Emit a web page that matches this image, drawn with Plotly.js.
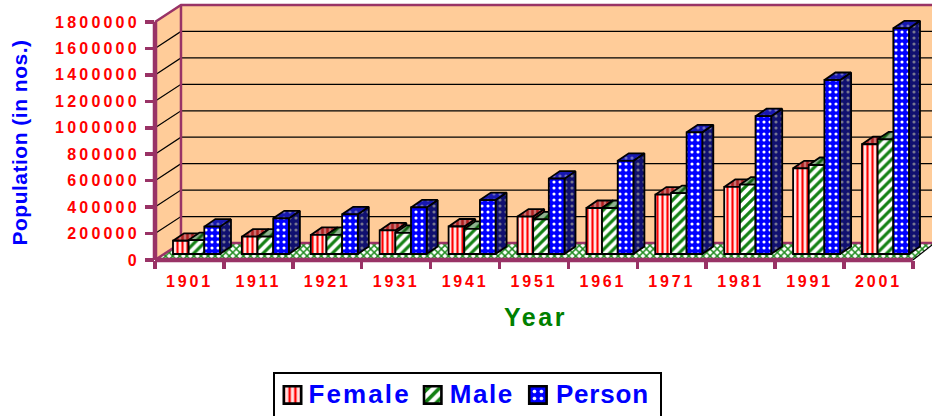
<!DOCTYPE html>
<html><head><meta charset="utf-8">
<script src="https://cdn.plot.ly/plotly-3.0.1.min.js"></script>
<style>
html,body{margin:0;padding:0;background:#fff;overflow:hidden}
.cartesianlayer .plot,.scatterlayer,.scatterlayer *,.overplot,.subplot,.subplot *{clip-path:none !important}
.xtick text{letter-spacing:2.8px}
.ytick text{letter-spacing:3.2px}
.legendtext{letter-spacing:2.1px;transform:translate(-6px,-4px)}
.legend .bg{width:387px}
.legendpoints{transform:translate(-11px,-2px) scale(1.45)}
.legend .traces:nth-child(2) .legendtext{letter-spacing:1.6px;transform:translate(-12px,-4px)}
.legend .traces:nth-child(2) .legendpoints{transform:translate(-18px,-2px) scale(1.45)}
.legend .traces:nth-child(3) .legendtext{letter-spacing:.8px;transform:translate(-17px,-4px)}
.legend .traces:nth-child(3) .legendpoints{transform:translate(-24px,-2px) scale(1.45)}
.xtitle{letter-spacing:2.5px}
.ytitle{letter-spacing:.5px}
.g-ytitle{transform:translate(-3px,10px)}
.g-xtitle{transform:translate(-8px,-1px)}
</style></head><body><div id="chart" style="width:932px;height:416px"></div>
<script>
const years  = ['1901','1911','1921','1931','1941','1951','1961','1971','1981','1991','2001'];
const female = [100000,131000,144000,178000,208000,283000,348000,449000,507000,648000,830000];
const male   = [105000,131000,144000,160000,190000,262000,348000,461000,524000,673000,867000];
const person = [207000,270000,300000,352000,408000,570000,705000,920000,1042000,1316000,1707000];
const yTicks = [0,200000,400000,600000,800000,1000000,1200000,1400000,1600000,1800000];

const purple = '#993366', peach = '#FFCC99';
const yTop = 1928571, xEnd = 10.777, xFront = -0.5, xFrontEnd = 10.5;
const wallDx = 0.377, wallDy = 128571;          // depth of the chart box, in axis units
const barDx = 0.16, barDy = 56700;              // depth of a bar, in axis units
const baseY = 45400, shiftX = 0.102;            // where the bars stand on the floor
const barW = 0.2273;
const indices = years.map((_, i) => i);

function poly(name, xs, ys, fill, pattern, line) {
  const t = {type:'scatter', mode:'lines', x:xs, y:ys, name, showlegend:false, hoverinfo:'skip',
    cliponaxis:false, fill:'toself', fillcolor:fill, line:line || {color:'#000', width:1.8}};
  if (pattern) t.fillpattern = pattern;
  return t;
}
function lineTrace(name, xs, ys, color, width) {
  return {type:'scatter', mode:'lines', x:xs, y:ys, name, showlegend:false, hoverinfo:'skip',
    cliponaxis:false, line:{color, width}};
}
function faces(values, s, sideBg, sideFg, topBg, topFg, shape, size, sol) {
  const sx=[], sy=[], tx=[], ty=[];
  values.forEach((v, i) => {
    const xl = i + shiftX - 1.5*barW + s*barW, xr = xl + barW, yv = v + baseY;
    sx.push(xr, xr+barDx, xr+barDx, xr, xr, null);
    sy.push(baseY, baseY+barDy, yv+barDy, yv, baseY, null);
    tx.push(xl, xl+barDx, xr+barDx, xr, xl, null);
    ty.push(yv, yv+barDy, yv+barDy, yv, yv, null);
  });
  return [
    poly('side', sx, sy, sideBg, {shape, size, solidity:sol, bgcolor:sideBg, fgcolor:sideFg, fillmode:'replace'}),
    poly('top', tx, ty, topBg, {shape, size, solidity:sol, bgcolor:topBg, fgcolor:topFg, fillmode:'replace'})
  ];
}

const gx=[], gy=[];
yTicks.slice(1,-1).forEach(v => {
  gx.push(xFront, xFront+wallDx, xEnd, null);
  gy.push(v, v+wallDy, v+wallDy, null);
});

const traces = [
  poly('back wall', [xFront+wallDx,xEnd,xEnd,xFront+wallDx,xFront+wallDx], [wallDy,wallDy,yTop,yTop,wallDy], peach, null, {color:peach,width:0}),
  poly('side wall', [xFront,xFront+wallDx,xFront+wallDx,xFront,xFront], [0,wallDy,1800000+wallDy,1800000,0], peach, null, {color:peach,width:0}),
  poly('floor', [xFront,xFront+wallDx,xEnd,xEnd,xFrontEnd,xFront], [0,wallDy,wallDy,wallDy*0.88,0,0], '#ffffff',
       {shape:'x', size:5, solidity:0.5, bgcolor:'#ffffff', fgcolor:'#1E8B1E', fillmode:'replace'}, {color:'rgba(0,0,0,0)',width:0}),
  lineTrace('grid', gx, gy, '#000', 1.2),
  lineTrace('box', [xFront,xFront+wallDx,xEnd,null,xFront+wallDx,xFront+wallDx,xEnd,null,xFront,xFront+wallDx],
            [1800000,1800000+wallDy,1800000+wallDy,null,1800000+wallDy,wallDy,wallDy,null,0,wallDy], purple, 2.5),
  lineTrace('floor edge', [xFrontEnd,xEnd], [0,wallDy*0.88], '#000', 1.2),
  ...faces(female,0,'#B05050','#D02020','#C87070','#B02020','|',5,0.5),
  ...faces(male,1,'#4F8F4F','#1E6B1E','#8FB08F','#106010','/',7,0.4),
  ...faces(person,2,'#101070','#77778F','#1818B0','#6F6FC0','.',6,0.22),
  lineTrace('y axis', [xFront,xFront], [0,1800000], purple, 4.5),
  lineTrace('x axis', [xFront,xFrontEnd], [0,0], purple, 4.5),
  {type:'bar', name:'Female', x:years, y:female, xaxis:'x2', yaxis:'y2', hoverinfo:'skip',
   marker:{color:'#FFD8D8', line:{color:'#000',width:1.8}, pattern:{shape:'|', size:5, solidity:0.42, bgcolor:'#FFE4E4', fgcolor:'#FF0000', fillmode:'replace'}}},
  {type:'bar', name:'Male', x:years, y:male, xaxis:'x2', yaxis:'y2', hoverinfo:'skip',
   marker:{color:'#FFFFFF', line:{color:'#000',width:1.8}, pattern:{shape:'/', size:7, solidity:0.45, bgcolor:'#FFFFFF', fgcolor:'#128012', fillmode:'replace'}}},
  {type:'bar', name:'Person', x:years, y:person, xaxis:'x2', yaxis:'y2', hoverinfo:'skip',
   marker:{color:'#0000FF', line:{color:'#000',width:1.8}, pattern:{shape:'.', size:6, solidity:0.22, bgcolor:'#0000FF', fgcolor:'#FFFFFF', fillmode:'replace'}}}
];

const font = 'Liberation Sans, Arial, sans-serif';
const layout = {
  width:932, height:416, paper_bgcolor:'#fff', plot_bgcolor:'#fff',
  margin:{l:155, r:0, t:5, b:156, pad:0, autoexpand:false},
  showlegend:true, barmode:'group', bargap:0.318, bargroupgap:0,
  font:{family:font},
  xaxis:{type:'linear', range:[xFront,xEnd], showgrid:false, zeroline:false, showline:false,
    tickmode:'array', tickvals:indices, ticktext:years, ticks:'outside', ticklen:7, tickwidth:1, tickcolor:'rgba(0,0,0,0)',
    tickfont:{family:font, size:16, color:'#FF0000', weight:'bold'},
    minor:{ticks:'outside', tickmode:'array', tickvals:[-0.5,0.5,1.5,2.5,3.5,4.5,5.5,6.5,7.5,8.5,9.5,10.5], ticklen:8, tickwidth:3.5, tickcolor:purple, showgrid:false},
    title:{text:'Year', standoff:20, font:{family:font, size:25, color:'#008000', weight:'bold'}}},
  yaxis:{type:'linear', range:[0,yTop], showgrid:false, zeroline:false, showline:false,
    tickmode:'array', tickvals:yTicks, ticktext:yTicks.map(String), ticks:'outside', ticklen:9, tickwidth:3.5, tickcolor:purple,
    ticklabelstandoff:2,
    tickfont:{family:font, size:16, color:'#FF0000', weight:'bold'},
    title:{text:'Population (in nos.)', standoff:18, font:{family:font, size:21, color:'#0000FF', weight:'bold'}}},
  xaxis2:{type:'category', overlaying:'x', anchor:'y2', range:[xFront-shiftX,xEnd-shiftX], visible:false, categoryorder:'array', categoryarray:years},
  yaxis2:{type:'linear', overlaying:'y', anchor:'x2', range:[-baseY,yTop-baseY], visible:false},
  legend:{orientation:'h', x:273/932, xref:'container', xanchor:'left', yref:'container', y:1-372/416, yanchor:'top',
    bordercolor:'#000', borderwidth:1.5, bgcolor:'#fff', itemwidth:30, itemclick:false, itemdoubleclick:false,
    font:{family:font, size:26, color:'#0000FF', weight:'bold'}}
};
Plotly.newPlot('chart', traces, layout, {displayModeBar:false, staticPlot:true});
</script></body></html>
